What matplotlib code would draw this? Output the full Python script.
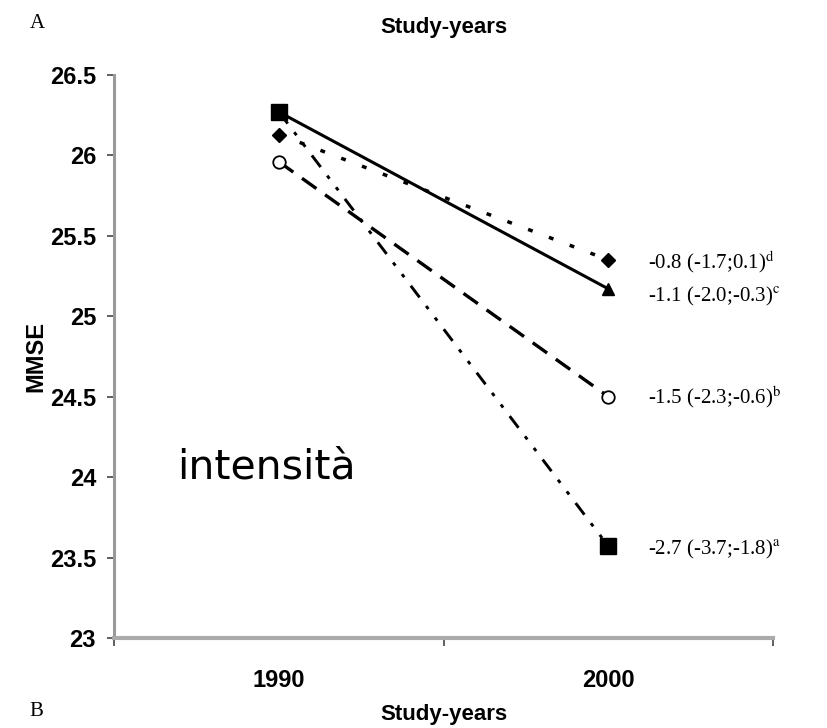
import matplotlib.pyplot as plt

years = ["1990", "2000"]

# MMSE per series, 1990 -> 2000
mmse_solid = [26.27, 25.17]
mmse_dotted = [26.13, 25.35]
mmse_dashed = [25.96, 24.50]
mmse_dashdot = [26.27, 23.57]

labels = [
    r"-0.8 (-1.7;0.1)$^{\mathrm{d}}$",
    r"-1.1 (-2.0;-0.3)$^{\mathrm{c}}$",
    r"-1.5 (-2.3;-0.6)$^{\mathrm{b}}$",
    r"-2.7 (-3.7;-1.8)$^{\mathrm{a}}$",
]
label_y = [25.34, 25.12, 24.50, 23.55]

plt.rcParams['mathtext.fontset'] = 'stix'
sans = 'Liberation Sans'
serif = 'Liberation Serif'

fig = plt.figure(figsize=(8.27, 7.28), dpi=100)
ax = fig.add_axes([0.138, 0.1236, 0.797, 0.7734])

x = list(range(len(years)))

ax.plot(x, mmse_dashdot, color='black', lw=2.1, dashes=(5, 3.7, 1.3, 3.7, 1.3, 3.7),
        marker='s', markersize=11, zorder=3)
ax.plot(x, mmse_solid, color='black', lw=2.2, ls='-',
        marker='^', markersize=9, zorder=2)
ax.plot(x, mmse_dotted, color='black', lw=2.5, dashes=(1.4, 5),
        marker='D', markersize=7, zorder=2)
ax.plot(x, mmse_dashed, color='black', lw=2.4, dashes=(5.3, 3.2),
        marker='o', markersize=9, markerfacecolor='white', markeredgewidth=1.3, zorder=2)

for txt, yv in zip(labels, label_y):
    ax.text(1.121, yv, txt, fontsize=15, family=serif, va='center')

ax.set_xlim(-0.5, 1.5)
ax.set_ylim(23, 26.5)
ax.set_yticks([23, 23.5, 24, 24.5, 25, 25.5, 26, 26.5])
ax.set_yticklabels(['23', '23.5', '24', '24.5', '25', '25.5', '26', '26.5'],
                   fontsize=17, fontweight='bold', family=sans)

ax.set_xticks(x)
ax.set_xticklabels(years, fontsize=17, fontweight='bold', family=sans)
ax.tick_params(axis='x', which='major', length=0, pad=22)
ax.set_xticks([-0.5, 0.5, 1.5], minor=True)
ax.tick_params(axis='x', which='minor', length=6, color='#444444', width=1.2)
ax.tick_params(axis='y', length=5, width=1.2, color='#444444', pad=8)

ax.spines['top'].set_visible(False)
ax.spines['right'].set_visible(False)
ax.spines['left'].set_color('#999999')
ax.spines['left'].set_linewidth(2.2)
ax.spines['bottom'].set_color('#aaaaaa')
ax.spines['bottom'].set_linewidth(3)

ax.set_ylabel('MMSE', fontsize=17, fontweight='bold', family=sans, labelpad=2)
ax.set_xlabel('Study-years', fontsize=16, fontweight='bold', family=sans, labelpad=9)
ax.set_title('Study-years', fontsize=16, fontweight='bold', family=sans, pad=30)

fig.text(0.036, 0.968, 'A', fontsize=15, family=serif, va='center')
fig.text(0.036, 0.022, 'B', fontsize=15, family=serif, va='center')

ax.text(-0.309, 24.06, 'intensità', fontsize=29.5, va='center', ha='left')

fig.savefig('out.png', dpi=100)
